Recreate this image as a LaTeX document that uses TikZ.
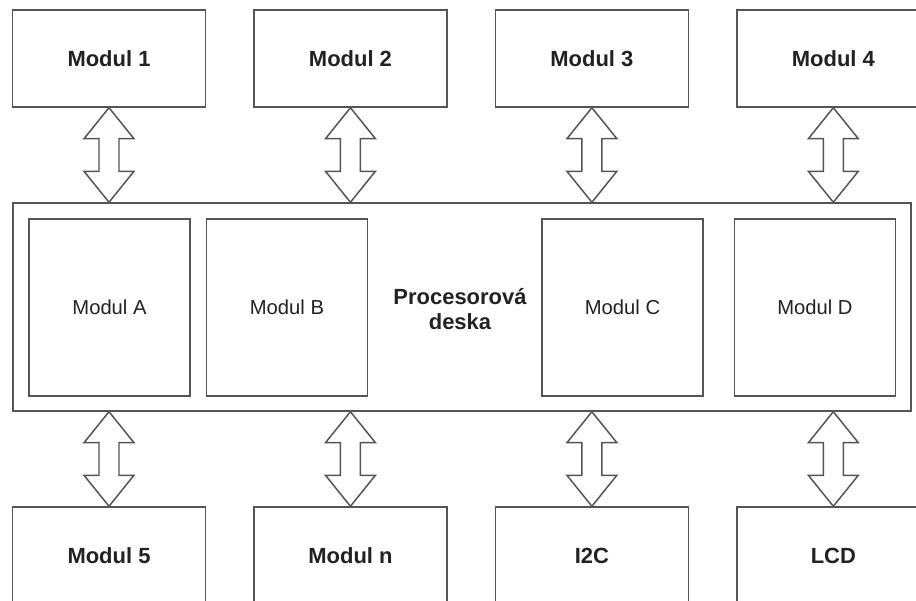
\documentclass[tikz,border=0pt]{standalone}
\usepackage{fontspec}
\setmainfont{Liberation Sans}
\usepackage{tikz}
\usetikzlibrary{positioning,calc}

\definecolor{edge}{HTML}{555555}
\definecolor{ink}{HTML}{222222}

% double block arrow between two points, top end first
\newcommand{\busarrow}[2]{%
  \draw[bus] (#1) -- ($(#1)+(-25,-31)$) -- ($(#1)+(-10,-31)$) -- ($(#2)+(-10,31)$) -- ($(#2)+(-25,31)$) -- (#2)
    -- ($(#2)+(25,31)$) -- ($(#2)+(10,31)$) -- ($(#1)+(10,-31)$) -- ($(#1)+(25,-31)$) -- cycle;}

\begin{document}
\begin{tikzpicture}[x=0.02cm, y=0.02cm,
            modbox/.style={rectangle, draw=edge, line width=0.85pt, fill=white, text=ink, minimum width=3.86cm, minimum height=1.94cm, font=\fontsize{12.5}{14.4}\selectfont\bfseries},
            innerbox/.style={rectangle, draw=edge, line width=0.85pt, fill=white, text=ink, minimum width=3.22cm, minimum height=3.54cm, font=\fontsize{11.5}{13.5}\selectfont},
            board/.style={rectangle, draw=edge, line width=0.85pt, minimum width=17.96cm, minimum height=4.16cm},
            boardlabel/.style={text=ink, align=center, font=\fontsize{12.5}{14.4}\selectfont\bfseries},
            bus/.style={draw=edge, line width=0.85pt, fill=white, line join=miter},
        ]
        \useasboundingbox (0,0) rectangle (916,601);
        \clip (0,0) rectangle (916,601);
        \node[modbox]     (m1)                              at (109,542.5) {Modul 1};
        \node[modbox]     (m2)    [right = 0.94cm of m1]                   {Modul 2};
        \node[modbox]     (m3)    [right = 0.94cm of m2]                   {Modul 3};
        \node[modbox]     (m4)    [right = 0.94cm of m3]                   {Modul 4};
        \node[board]      (board)                           at (462,294)   {};
        \node[innerbox]   (ma)                              at (109.5,293.5) {Modul A};
        \node[innerbox]   (mb)    [right = 0.3cm of ma]                    {Modul B};
        \node[innerbox]   (mc)                              at (622.5,293.5) {Modul C};
        \node[innerbox]   (md)    [right = 0.6cm of mc]                    {Modul D};
        \node[boardlabel] (cpu)                             at (460,292)   {Procesorová\\deska};
        \node[modbox]     (m5)                              at (109,45.5)  {Modul 5};
        \node[modbox]     (mn)    [right = 0.94cm of m5]                   {Modul n};
        \node[modbox]     (i2c)   [right = 0.94cm of mn]                   {I2C};
        \node[modbox]     (lcd)   [right = 0.94cm of i2c]                  {LCD};
        \coordinate (t1) at (m1.south |- board.north);
        \coordinate (t2) at (m2.south |- board.north);
        \coordinate (t3) at (m3.south |- board.north);
        \coordinate (t4) at (m4.south |- board.north);
        \coordinate (b1) at (m5.north |- board.south);
        \coordinate (b2) at (mn.north |- board.south);
        \coordinate (b3) at (i2c.north |- board.south);
        \coordinate (b4) at (lcd.north |- board.south);
        \busarrow{m1.south}{t1}
        \busarrow{m2.south}{t2}
        \busarrow{m3.south}{t3}
        \busarrow{m4.south}{t4}
        \busarrow{b1}{m5.north}
        \busarrow{b2}{mn.north}
        \busarrow{b3}{i2c.north}
        \busarrow{b4}{lcd.north}
    \end{tikzpicture}
\end{document}
